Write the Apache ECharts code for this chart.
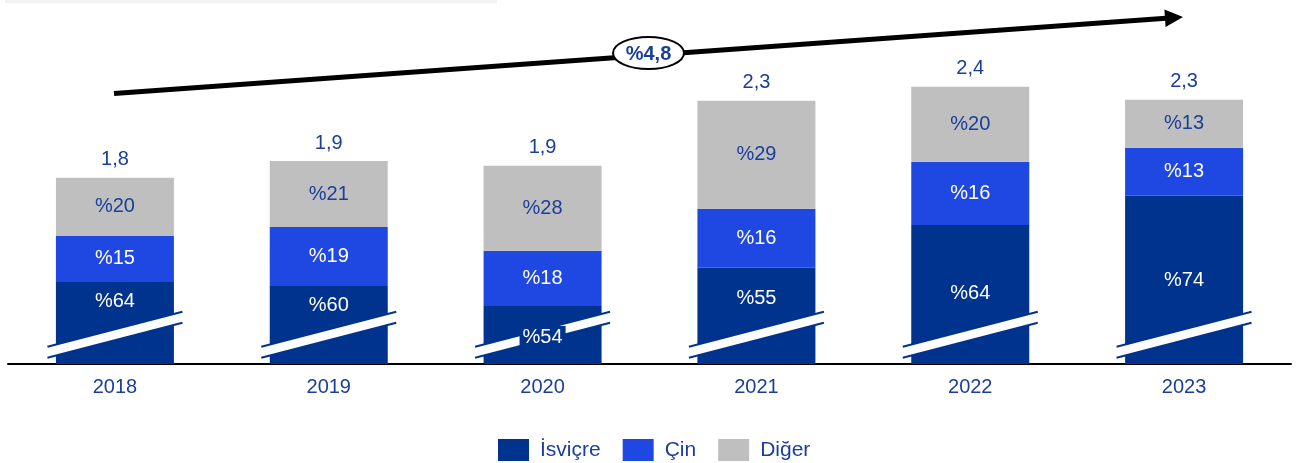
<!DOCTYPE html>
<html>
<head>
<meta charset="utf-8">
<script src="https://cdn.jsdelivr.net/npm/echarts@6/dist/echarts.min.js"></script>
<style>
html,body{margin:0;padding:0;background:#fff;}
#chart{width:1296px;height:463px;}
</style>
</head>
<body>
<div id="chart"></div>
<script>
// ---- data (values in billions) ----
const categories = ['2018', '2019', '2020', '2021', '2022', '2023'];
const valIsvicre = [1.166, 1.141, 1.018, 1.253, 1.518, 1.697];
const valCin = [0.284, 0.364, 0.340, 0.364, 0.389, 0.296];
const valDiger = [0.358, 0.407, 0.525, 0.667, 0.463, 0.296];
// printed labels
const totalLabels = ['1,8', '1,9', '1,9', '2,3', '2,4', '2,3'];
const shareIsvicre = [64, 60, 54, 55, 64, 74];
const shareCin = [15, 19, 18, 16, 16, 13];
const shareDiger = [20, 21, 28, 29, 20, 13];
const cagrLabel = '%4,8';
const seriesNames = ['İsviçre', 'Çin', 'Diğer'];

// ---- styles ----
const NAVY = '#00338D';
const BLUE = '#1F48E2';
const GRAY = '#BFBFBF';
const TXT = '#1A3F99';
const FONT = '"Liberation Sans", Arial, sans-serif';
const AXIS_MIN = 0.66;   // broken axis start
const BREAK_VAL = 0.84;  // where the break slash is drawn
const isvLabelDy = [-21, -20, 3, -17, -1, 1];

const fmtPct = v => '%' + v;

const chart = echarts.init(document.getElementById('chart'), null, {renderer: 'canvas'});

function segSeries(name, values, shares, color, labelColor, showLabel) {
  return {
    name: name,
    type: 'bar',
    stack: 'tot',
    barWidth: 118,
    z: 2,
    itemStyle: {color: color},
    label: {
      show: showLabel,
      position: 'inside',
      color: labelColor,
      fontSize: 20,
      fontFamily: FONT,
      formatter: p => fmtPct(shares[p.dataIndex])
    },
    data: values.slice()
  };
}

const option = {
  animation: false,
  backgroundColor: '#fff',
  grid: {left: 8, right: 5, top: 17, bottom: 99, containLabel: false},
  legend: {
    data: seriesNames,
    top: 434,
    left: 493,
    icon: 'rect',
    itemWidth: 31,
    itemHeight: 22,
    itemGap: 22,
    textStyle: {fontSize: 21, color: TXT, fontFamily: FONT, padding: [0, 0, 0, 6]}
  },
  xAxis: {
    type: 'category',
    data: categories,
    axisLine: {lineStyle: {color: '#000', width: 2}},
    axisTick: {show: false},
    axisLabel: {fontSize: 20, color: TXT, fontFamily: FONT, margin: 13}
  },
  yAxis: {
    type: 'value',
    min: AXIS_MIN,
    max: 2.8,
    show: false,
    splitLine: {show: false}
  },
  series: [
    segSeries(seriesNames[0], valIsvicre, shareIsvicre, NAVY, '#fff', false),
    segSeries(seriesNames[1], valCin, shareCin, BLUE, '#fff', true),
    segSeries(seriesNames[2], valDiger, shareDiger, GRAY, TXT, true),
    {
      name: 'total',
      type: 'bar',
      stack: 'tot',
      barWidth: 118,
      itemStyle: {color: 'transparent'},
      label: {
        show: true,
        position: 'top',
        distance: 8,
        fontSize: 20,
        color: TXT,
        fontFamily: FONT,
        formatter: p => totalLabels[p.dataIndex]
      },
      data: categories.map(() => 0)
    },
    {
      name: 'break',
      type: 'custom',
      z: 5,
      data: categories.map((c, i) => [i, valIsvicre[i]]),
      encode: {x: 0, y: 1},
      renderItem: function (params, api) {
        const i = params.dataIndex;
        const c = api.coord([api.value(0), BREAK_VAL]);
        const yBase = api.coord([api.value(0), AXIS_MIN])[1];
        const yTop = api.coord([api.value(0), api.value(1)])[1];
        const hw = 67.5, slope = 17.5, half = 5.5;
        const x1 = c[0] - hw, x2 = c[0] + hw;
        const p1 = [x1, c[1] + slope - half], p2 = [x2, c[1] - slope - half];
        const p3 = [x2, c[1] - slope + half], p4 = [x1, c[1] + slope + half];
        return {
          type: 'group',
          children: [
            {type: 'polygon', shape: {points: [p1, p2, p3, p4]}, style: {fill: '#fff'}},
            {type: 'line', shape: {x1: p1[0], y1: p1[1], x2: p2[0], y2: p2[1]}, style: {stroke: NAVY, lineWidth: 2}},
            {type: 'line', shape: {x1: p4[0], y1: p4[1], x2: p3[0], y2: p3[1]}, style: {stroke: NAVY, lineWidth: 2}},
            {
              type: 'text',
              x: c[0],
              y: (yBase + yTop) / 2 + isvLabelDy[i],
              style: {
                text: fmtPct(shareIsvicre[i]),
                align: 'center',
                verticalAlign: 'middle',
                fill: '#fff',
                font: '20px ' + FONT,
                backgroundColor: NAVY,
                padding: [2, 3]
              }
            }
          ]
        };
      }
    }
  ],
  graphic: [
    {type: 'rect', left: 5, top: 0, shape: {width: 492, height: 3}, style: {fill: '#F2F2F2'}, silent: true},
    {type: 'line', shape: {x1: 114, y1: 93.5, x2: 1166, y2: 18.3}, style: {stroke: '#000', lineWidth: 5}, z: 10},
    {type: 'polygon', shape: {points: [[1183, 17], [1165.6, 27], [1164.4, 9.5]]}, style: {fill: '#000'}, z: 10},
    {type: 'ellipse', shape: {cx: 648.5, cy: 53, rx: 35.5, ry: 16}, style: {fill: '#fff', stroke: '#000', lineWidth: 2}, z: 11},
    {type: 'text', x: 648.5, y: 54, style: {text: cagrLabel, align: 'center', verticalAlign: 'middle', font: 'bold 20px ' + FONT, fill: TXT}, z: 12}
  ]
};
chart.setOption(option);
</script>
</body>
</html>
